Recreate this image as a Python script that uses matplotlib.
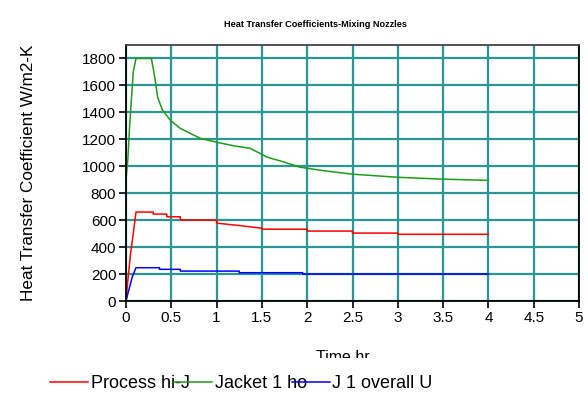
import matplotlib
matplotlib.use("Agg")
import matplotlib.pyplot as plt
from matplotlib.transforms import Bbox

# values
t_jacket = [0.0, 0.02, 0.04, 0.06, 0.08, 0.11, 0.28, 0.32, 0.35, 0.40, 0.49, 0.60, 0.82, 1.0, 1.2, 1.37, 1.56, 1.75, 1.92, 2.2, 2.5, 3.0, 3.5, 4.0]
h_jacket = [900, 1050, 1300, 1500, 1700, 1800, 1800, 1650, 1510, 1420, 1340, 1280, 1207, 1178, 1150, 1133, 1067, 1030, 993, 965, 941, 918, 904, 895]

t_process = [0.0, 0.02, 0.05, 0.08, 0.11, 0.30, 0.30, 0.45, 0.45, 0.6, 0.6, 1.0, 1.0, 1.25, 1.5, 1.5, 2.0, 2.0, 2.5, 2.5, 3.0, 3.0, 4.0]
h_process = [0, 150, 350, 500, 660, 660, 645, 645, 625, 625, 600, 600, 578, 560, 540, 533, 533, 519, 519, 504, 504, 495, 495]

t_overall = [0.0, 0.03, 0.07, 0.11, 0.37, 0.37, 0.60, 0.60, 1.25, 1.25, 1.95, 1.95, 4.0]
h_overall = [0, 80, 180, 247, 247, 235, 235, 222, 222, 210, 210, 200, 200]

xticks = [0, 0.5, 1, 1.5, 2, 2.5, 3, 3.5, 4, 4.5, 5]
xticklabels = ["0", "0.5", "1", "1.5", "2", "2.5", "3", "3.5", "4", "4.5", "5"]
yticks = list(range(0, 1801, 200))

plt.rcParams['font.family'] = ['Liberation Sans', 'DejaVu Sans']

fig = plt.figure(figsize=(5.88, 3.94), dpi=100)
ax = fig.add_axes([0.2143, 0.236, 0.7704, 0.65])

grid_c = "#2a9696"
ax.set_xlim(0, 5)
ax.set_ylim(0, 1900)
ax.set_xticks(xticks)
ax.set_xticklabels(xticklabels)
ax.set_yticks(yticks)
ax.grid(True, color=grid_c, linewidth=1.6)
ax.set_axisbelow(True)

l1, = ax.plot(t_process, h_process, color="#ff0000", lw=1.1, label="Process hi-J")
l2, = ax.plot(t_jacket, h_jacket, color="#1e9a1e", lw=1.1, label="Jacket 1 ho")
l3, = ax.plot(t_overall, h_overall, color="#0000ff", lw=1.1, label="J 1 overall U")

for s in ["left", "bottom", "right"]:
    ax.spines[s].set_color("black")
    ax.spines[s].set_linewidth(1.3)
ax.spines["top"].set_color("#444444")
ax.spines["top"].set_linewidth(1.3)

ax.tick_params(axis="both", direction="out", length=5, width=1.2, labelsize=11, pad=2)

ax.set_ylabel("Heat Transfer Coefficient W/m2-K", fontsize=12.3, labelpad=33)

fig.text(0.536, 0.937, "Heat Transfer Coefficients-Mixing Nozzles", fontsize=6.6,
         fontweight="bold", ha="center", va="center")

# x label, clipped at the bottom like the original
xl = fig.text(0.583, 0.082, "Time hr", fontsize=11.5, ha="center", va="baseline")
xl.set_clip_box(Bbox.from_extents(0, 394 - 358, 588, 394))
xl.set_clip_on(True)

fig.legend(handles=[l1, l2, l3], loc="center left", bbox_to_anchor=(0.085, 0.027),
           ncol=3, frameon=False, fontsize=13, handlelength=2.1, handletextpad=0.15,
           columnspacing=-0.85, borderpad=0, borderaxespad=0)

fig.savefig("out.png", dpi=100)
